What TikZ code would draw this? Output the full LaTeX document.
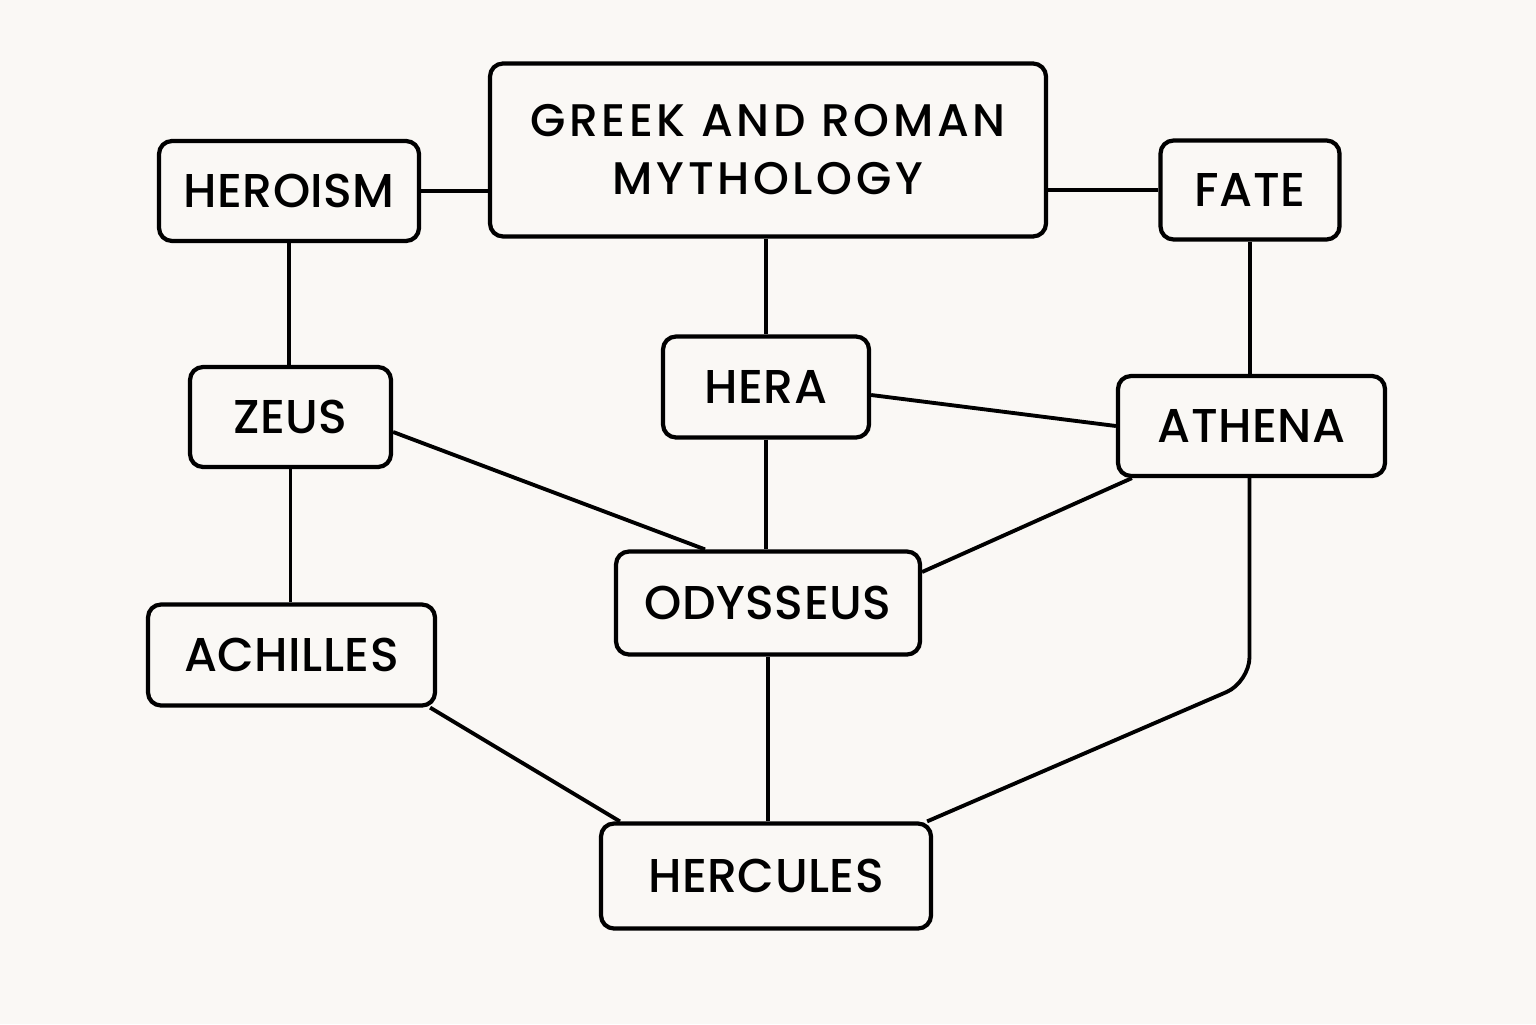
\documentclass[tikz,border=0pt]{standalone}
\usepackage{fontspec}
\setmainfont{Poppins}
\newfontfamily\topicfont{Poppins Medium}
\definecolor{paper}{HTML}{FAF8F5}
\tikzset{
  topic/.style={draw,line width=1.2pt,rounded corners=0.13cm,fill=paper,
    inner sep=0pt,align=center,
    font=\topicfont\fontsize{13.5}{20}\selectfont\addfontfeature{LetterSpace=1}},
  link/.style={line width=1.1pt}
}
\begin{document}
\begin{tikzpicture}
\fill[paper] (0,0) rectangle (15.36,10.24);
\useasboundingbox (0,0) rectangle (15.36,10.24);
% topics
\node[topic,minimum width=5.56cm,minimum height=1.73cm,
  font=\topicfont\fontsize{13}{16.5}\selectfont\addfontfeature{LetterSpace=8}] (myth) at (7.68,8.74) {GREEK AND ROMAN\\MYTHOLOGY};
\node[topic,minimum width=2.60cm,minimum height=1.00cm] (heroism) at (2.89,8.33) {HEROISM};
\node[topic,minimum width=1.79cm,minimum height=0.99cm] (fate) at (12.50,8.34) {FATE};
\node[topic,minimum width=2.06cm,minimum height=1.01cm] (hera) at (7.66,6.37) {HERA};
\node[topic,minimum width=2.01cm,minimum height=1.00cm] (zeus) at (2.905,6.07) {ZEUS};
\node[topic,minimum width=2.67cm,minimum height=1.00cm] (athena) at (12.515,5.98) {ATHENA};
\node[topic,minimum width=3.04cm,minimum height=1.03cm] (odysseus) at (7.68,4.21) {ODYSSEUS};
\node[topic,minimum width=2.87cm,minimum height=1.01cm] (achilles) at (2.915,3.69) {ACHILLES};
\node[topic,minimum width=3.30cm,minimum height=1.05cm] (hercules) at (7.66,1.48) {HERCULES};
% links
\draw[link] (heroism.east) -- (myth.west |- heroism.east);
\draw[link] (myth.east |- fate.west) -- (fate.west);
\draw[link] (heroism.south) -- (heroism.south |- zeus.north);
\draw[link] (hera.north |- myth.south) -- (hera.north);
\draw[link] (fate.south) -- (fate.south |- athena.north);
\draw[link] ([yshift=-0.8mm]hera.east) -- (athena.west);
\draw[link] ([yshift=-1.5mm]zeus.east) -- ([xshift=-6.3mm]odysseus.north);
\draw[link] (hera.south) -- (hera.south |- odysseus.north);
\draw[link] ([xshift=1.6mm]athena.south west) -- ([yshift=3.1mm]odysseus.east);
\draw[link] (zeus.south) -- (zeus.south |- achilles.north);
\draw[link] ([xshift=-0.7mm]achilles.south east) -- ([xshift=2.1mm]hercules.north west);
\draw[link] (odysseus.south) -- (odysseus.south |- hercules.north);
\draw[link,rounded corners=0.25cm] ([xshift=-0.2mm]athena.south) -- ++(0,-2.04) -- ([xshift=-0.6mm]hercules.north east);
\end{tikzpicture}
\end{document}
